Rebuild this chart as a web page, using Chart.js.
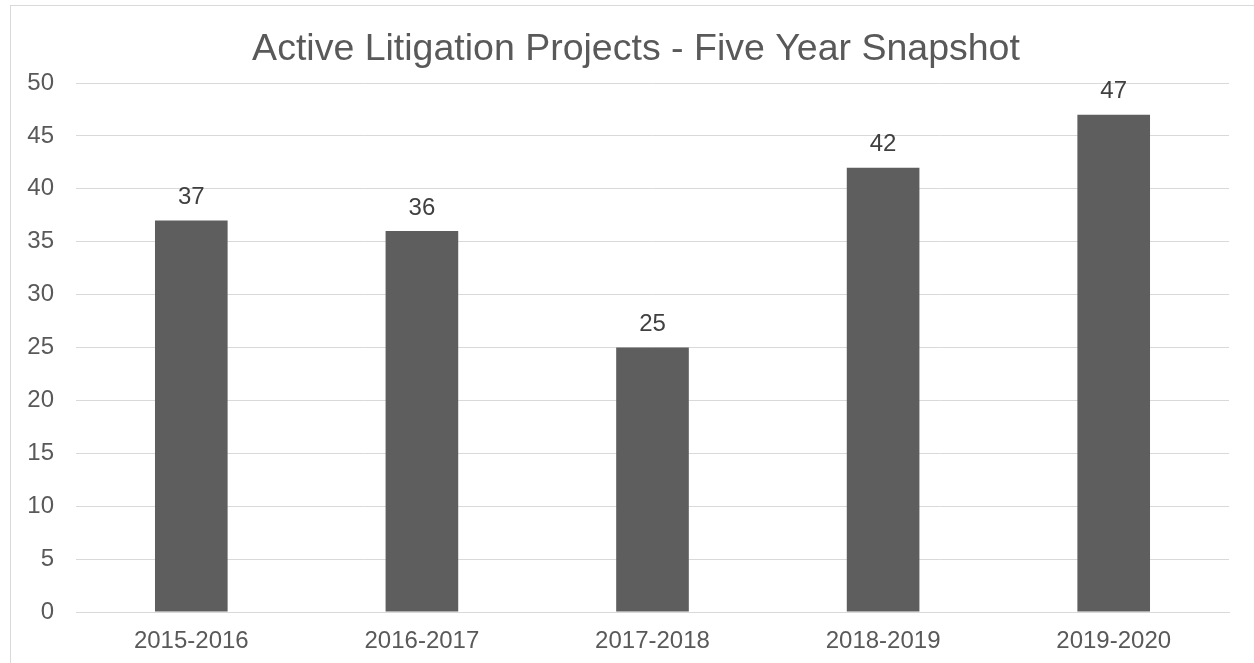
<!DOCTYPE html>
<html>
<head>
<meta charset="utf-8">
<script src="https://cdn.jsdelivr.net/npm/chart.js@4"></script>
<style>
    html, body { margin: 0; padding: 0; background: #fff; overflow: hidden; }
    #wrap { position: relative; width: 1254px; height: 663px; }
    #frame { position: absolute; left: 10px; top: 5px; width: 1400px; height: 800px; border: 1px solid #d9d9d9; }
    #box { position: absolute; left: 0; top: 0; width: 1254px; height: 663px; }
</style>
</head>
<body>
<div id="wrap">
    <div id="frame"></div>
    <div id="box"><canvas id="litigationChart"></canvas></div>
</div>
<script>
const periods = ['2015-2016', '2016-2017', '2017-2018', '2018-2019', '2019-2020'];
const activeProjects = [37, 36, 25, 42, 47];
const yTicks = [0, 5, 10, 15, 20, 25, 30, 35, 40, 45, 50];
const chartTitle = 'Active Litigation Projects - Five Year Snapshot';

const fontFamily = '"Liberation Sans", Arial, sans-serif';

// Title centred on the outer frame rather than the layout box
const frameTitle = {
    id: 'frameTitle',
    afterDraw(chart) {
        const ctx = chart.ctx;
        ctx.save();
        ctx.font = '37.5px ' + fontFamily;
        ctx.fillStyle = '#595959';
        ctx.textAlign = 'center';
        ctx.textBaseline = 'middle';
        ctx.fillText(chartTitle, 636, 50);
        ctx.restore();
    }
};

// Value labels above each bar
const barValues = {
    id: 'barValues',
    afterDatasetsDraw(chart) {
        const ctx = chart.ctx;
        const meta = chart.getDatasetMeta(0);
        ctx.save();
        ctx.font = '24px ' + fontFamily;
        ctx.fillStyle = '#404040';
        ctx.textAlign = 'center';
        ctx.textBaseline = 'middle';
        meta.data.forEach((bar, i) => {
            ctx.fillText(activeProjects[i], bar.x, bar.y - 23);
        });
        ctx.restore();
    }
};

const ctx = document.getElementById('litigationChart').getContext('2d');
new Chart(ctx, {
    type: 'bar',
    data: {
        labels: periods,
        datasets: [{
            label: 'Active Litigation Projects',
            data: activeProjects,
            backgroundColor: '#5e5e5e',
            barPercentage: 0.315,
            categoryPercentage: 1
        }]
    },
    options: {
        responsive: true,
        maintainAspectRatio: false,
        animation: false,
        layout: {
            padding: { left: 0, right: 25, top: 83, bottom: 0 }
        },
        plugins: {
            legend: { display: false },
            tooltip: { enabled: false },
            title: { display: false }
        },
        scales: {
            x: {
                afterFit(scale) { scale.height = 51; },
                grid: { display: false, drawTicks: false },
                border: { display: true, color: '#d9d9d9' },
                ticks: {
                    color: '#595959',
                    font: { family: fontFamily, size: 24 },
                    padding: 15
                }
            },
            y: {
                min: 0,
                max: 50,
                afterFit(scale) { scale.width = 76; },
                afterBuildTicks(scale) {
                    scale.ticks = yTicks.map(v => ({ value: v }));
                },
                grid: { color: '#d9d9d9', lineWidth: 1, drawTicks: false },
                border: { display: false },
                ticks: {
                    color: '#595959',
                    font: { family: fontFamily, size: 24 },
                    padding: 22
                }
            }
        }
    },
    plugins: [barValues, frameTitle]
});
</script>
</body>
</html>
